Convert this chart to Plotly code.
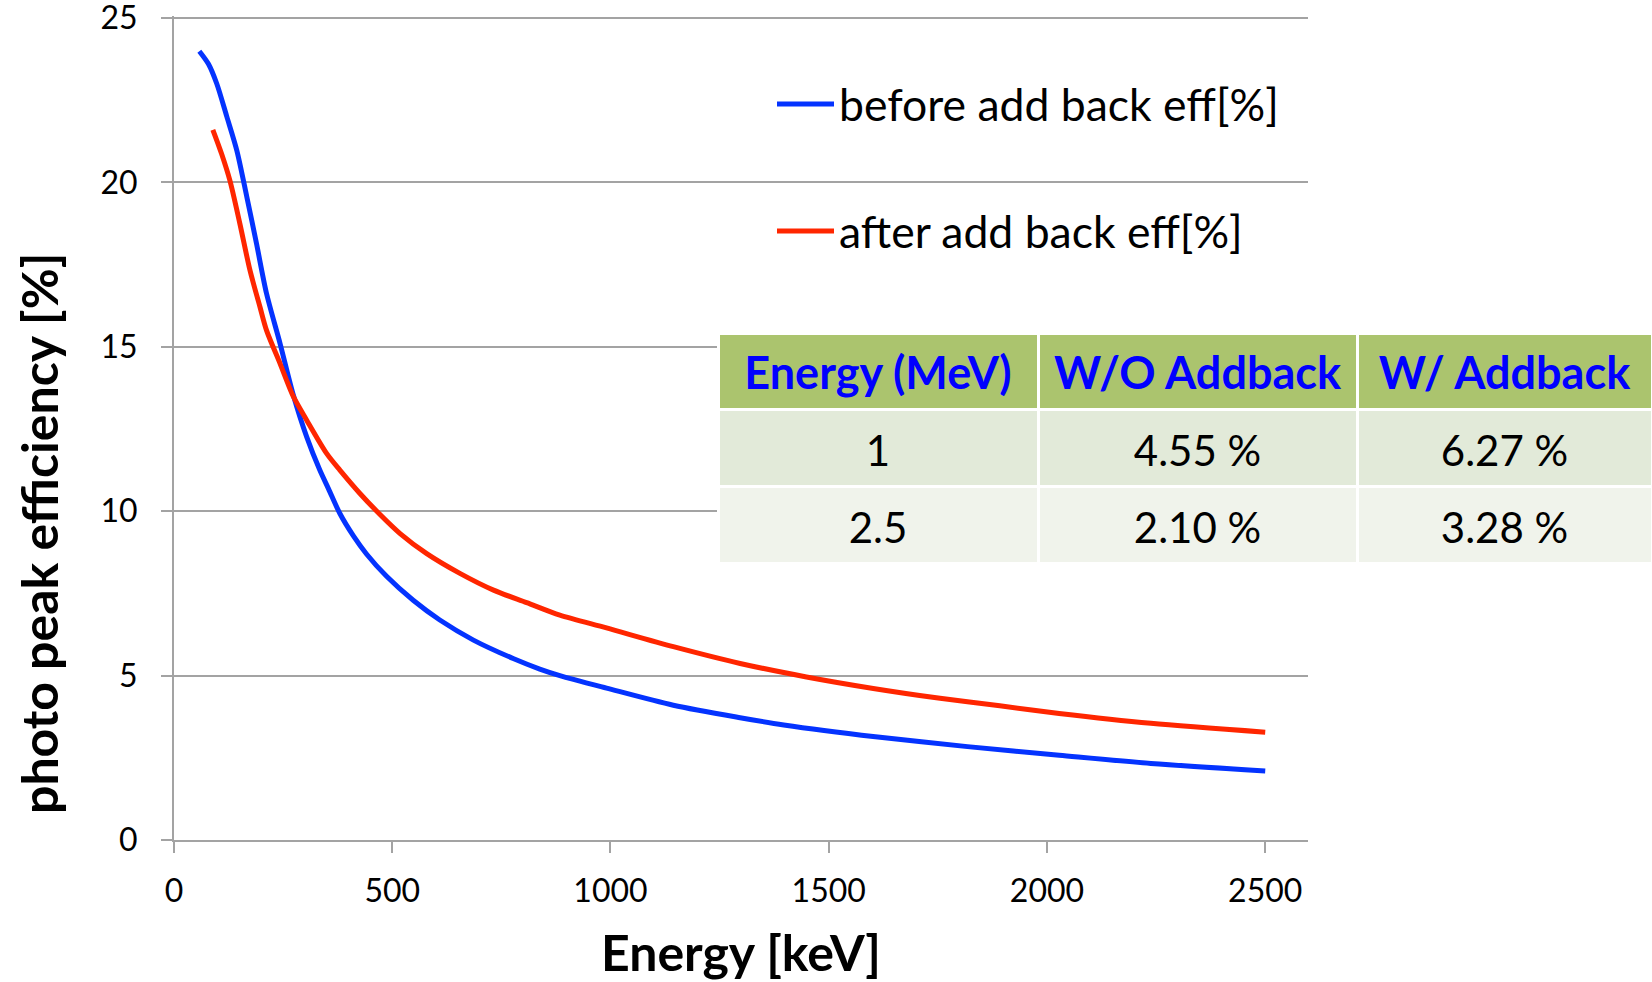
import plotly.graph_objects as go

# ---- data ----
energy_before = [58, 79, 98, 121, 144, 167, 189, 212, 243, 273, 304, 334, 354, 380, 411, 441,
                 487, 548, 609, 686, 777, 838, 884, 991, 1144, 1297, 1397, 1607, 1818, 2028,
                 2238, 2500]
eff_before = [23.99, 23.6, 23.0, 22.0, 20.97, 19.55, 18.14, 16.62, 15.10, 13.55, 12.26, 11.25,
              10.68, 9.93, 9.25, 8.70, 8.02, 7.29, 6.69, 6.08, 5.52, 5.20, 5.00, 4.62, 4.10,
              3.72, 3.50, 3.14, 2.84, 2.58, 2.33, 2.10]

energy_after = [89, 109, 128, 151, 174, 197, 212, 243, 273, 304, 350, 380, 426, 472, 518, 579,
                655, 732, 808, 884, 991, 1144, 1297, 1449, 1602, 1755, 1892, 2028, 2238, 2500]
eff_after = [21.6, 20.87, 20.06, 18.74, 17.33, 16.21, 15.50, 14.49, 13.50, 12.77, 11.75, 11.25,
             10.54, 9.90, 9.32, 8.71, 8.11, 7.60, 7.22, 6.84, 6.45, 5.88, 5.37, 4.96, 4.61,
             4.31, 4.08, 3.85, 3.55, 3.28]

series_names = ["before add back eff[%]", "after add back eff[%]"]

table_header = ["Energy (MeV)", "W/O Addback", "W/ Addback"]
table_energy = ["1", "2.5"]
table_wo = ["4.55 %", "2.10 %"]
table_w = ["6.27 %", "3.28 %"]

x_ticks = [0, 500, 1000, 1500, 2000, 2500]
y_ticks = [0, 5, 10, 15, 20, 25]

# ---- styling ----
W, H = 1652, 982
FONT = "Lato"
BLUE = "#0433FF"
RED = "#FF2600"
GRID = "#A3A3A3"


def cell_text(s, strut_px, bold=False):
    # an invisible taller space on each side pushes the text lower in the cell
    strut = f"<span style='font-size:{strut_px}px'>\u00a0</span>"
    body = f"<b>{s}</b>" if bold else s
    return f"{strut}{body}{strut}<br>"


fig = go.Figure()
fig.add_trace(go.Scatter(x=energy_before, y=eff_before, mode="lines", name=series_names[0],
                         line=dict(color=BLUE, width=5, shape="spline", smoothing=0.8),
                         legend="legend"))
fig.add_trace(go.Scatter(x=energy_after, y=eff_after, mode="lines", name=series_names[1],
                         line=dict(color=RED, width=5, shape="spline", smoothing=0.8),
                         legend="legend2"))

fig.add_trace(go.Table(
    domain=dict(x=[718 / W, 1.0], y=[1 - 578 / H, 1 - 333 / H]),
    columnwidth=[320, 319, 295],
    header=dict(values=[cell_text(h, 49, bold=True) for h in table_header],
                fill_color="#ABC46E", line=dict(color="white", width=3),
                font=dict(family=FONT, size=45, color="#0000FF"),
                align="center", height=76),
    cells=dict(values=[[cell_text(v, 50) for v in col] for col in (table_energy, table_wo, table_w)],
               fill_color=[["#E2EAD9", "#F0F3EB"]] * 3,
               line=dict(color="white", width=3),
               font=dict(family=FONT, size=42, color="black"),
               align="center", height=77),
))

axis_common = dict(showline=True, linecolor=GRID, linewidth=2, ticks="outside",
                   tickcolor=GRID, tickwidth=2, ticklen=11, automargin=False,
                   ticklabeloverflow="allow",
                   tickfont=dict(family=FONT, size=32, color="black"), zeroline=False)

fig.update_layout(
    width=W, height=H,
    margin=dict(l=0, r=0, t=0, b=0),
    paper_bgcolor="white", plot_bgcolor="white",
    font=dict(family=FONT, color="black"),
    xaxis=dict(domain=[174 / W, 1308 / W], range=[0, 2598], tickvals=x_ticks,
               showgrid=False, ticklabelstandoff=11,
               title=dict(text="<b>Energy [keV]</b>", font=dict(family=FONT, size=50), standoff=32),
               **axis_common),
    yaxis=dict(domain=[1 - 840 / H, 1 - 16 / H], range=[0, 25.061], tickvals=y_ticks,
               showgrid=True, gridcolor=GRID, gridwidth=2, ticklabelstandoff=17,
               **axis_common),
    annotations=[dict(text="<b>photo peak efficiency [%]</b>", textangle=-90,
                      xref="paper", yref="paper", x=39 / W, y=1 - 534 / H,
                      xanchor="center", yanchor="middle", showarrow=False,
                      font=dict(family=FONT, size=50, color="black"))],
    legend=dict(x=772 / W, y=1 - 104 / H, xanchor="left", yanchor="middle",
                font=dict(family=FONT, size=44.5), bgcolor="rgba(0,0,0,0)", itemwidth=57),
    legend2=dict(x=772 / W, y=1 - 231 / H, xanchor="left", yanchor="middle",
                 font=dict(family=FONT, size=44.5), bgcolor="rgba(0,0,0,0)", itemwidth=57),
    showlegend=True,
)

fig.write_html("out.html", config={"displayModeBar": False},
               post_script="document.body.style.margin='0';document.body.style.overflow='hidden';")
